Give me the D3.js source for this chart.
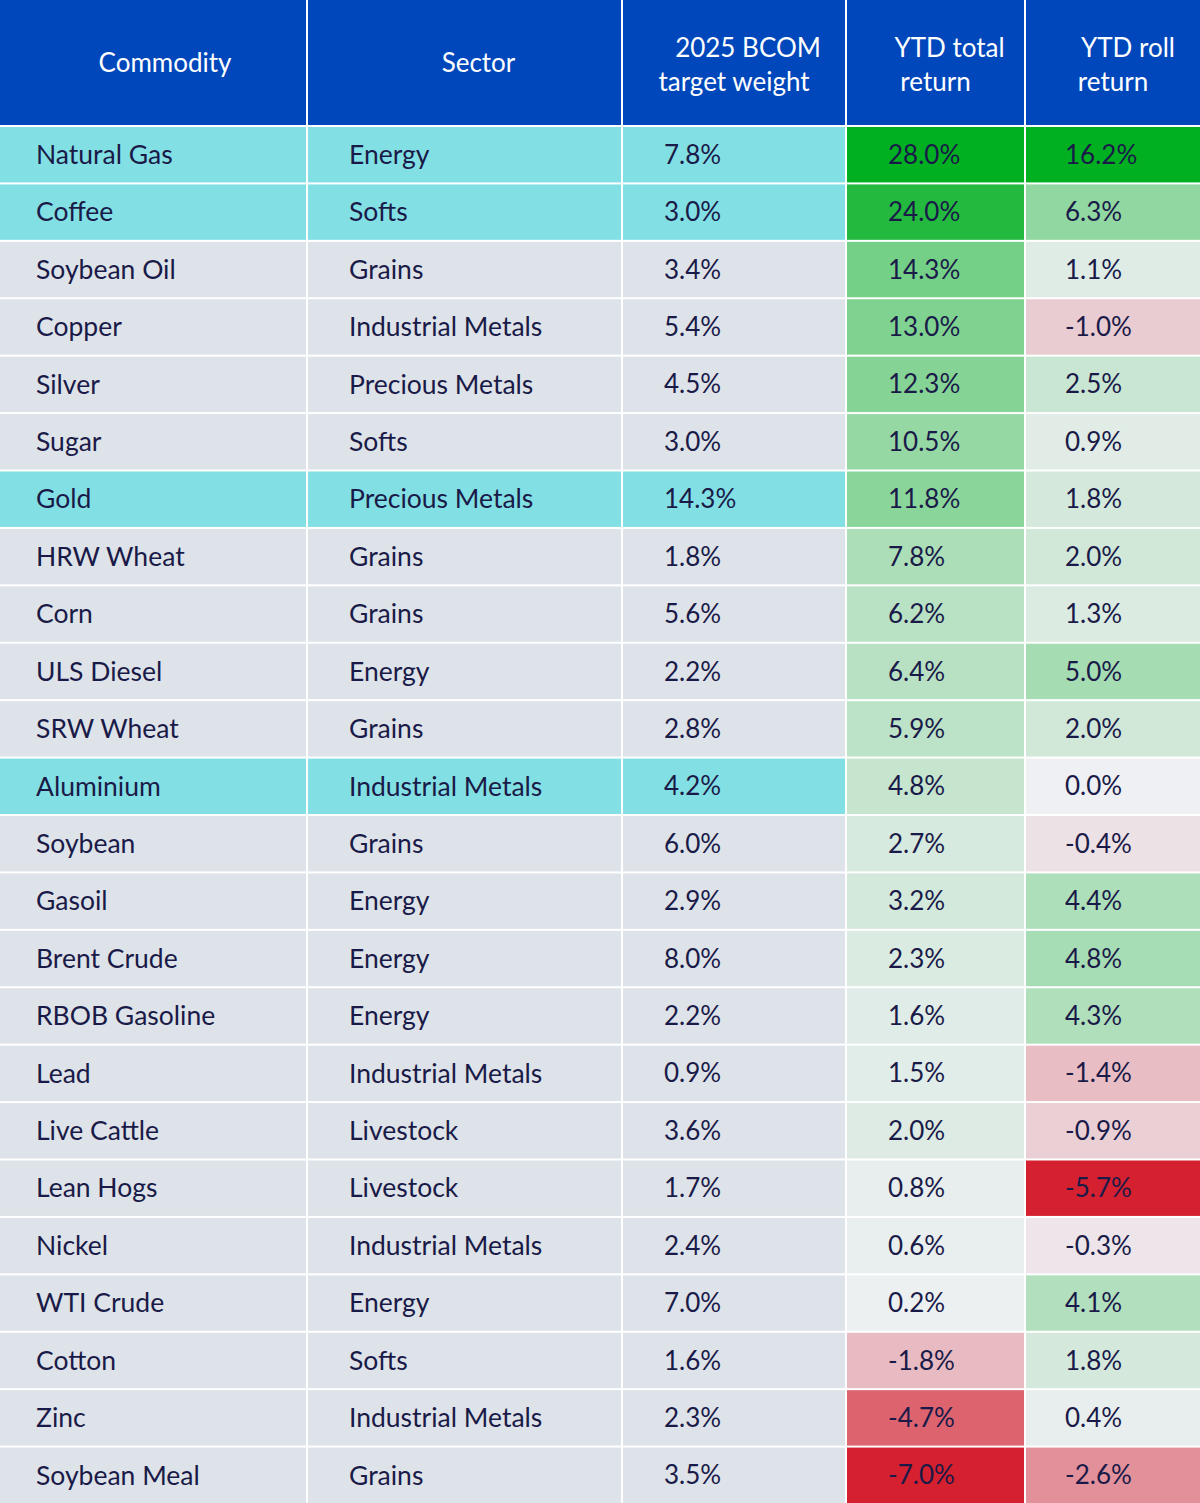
<!DOCTYPE html>
<html>
<head>
<meta charset="utf-8">
<script src="https://cdn.jsdelivr.net/npm/d3@7"></script>
<style>
  html, body { margin: 0; padding: 0; background: #ffffff; }
  svg { display: block; }
</style>
</head>
<body>
<svg id="chart" width="1200" height="1503"></svg>
<script>
// ---- data ----
const commodities = ["Natural Gas","Coffee","Soybean Oil","Copper","Silver","Sugar","Gold","HRW Wheat","Corn","ULS Diesel","SRW Wheat","Aluminium","Soybean","Gasoil","Brent Crude","RBOB Gasoline","Lead","Live Cattle","Lean Hogs","Nickel","WTI Crude","Cotton","Zinc","Soybean Meal"];
const sectors = ["Energy","Softs","Grains","Industrial Metals","Precious Metals","Softs","Precious Metals","Grains","Grains","Energy","Grains","Industrial Metals","Grains","Energy","Energy","Energy","Industrial Metals","Livestock","Livestock","Industrial Metals","Energy","Softs","Industrial Metals","Grains"];
const targetWeight = [7.8,3.0,3.4,5.4,4.5,3.0,14.3,1.8,5.6,2.2,2.8,4.2,6.0,2.9,8.0,2.2,0.9,3.6,1.7,2.4,7.0,1.6,2.3,3.5];
const ytdTotalReturn = [28.0,24.0,14.3,13.0,12.3,10.5,11.8,7.8,6.2,6.4,5.9,4.8,2.7,3.2,2.3,1.6,1.5,2.0,0.8,0.6,0.2,-1.8,-4.7,-7.0];
const ytdRollReturn = [16.2,6.3,1.1,-1.0,2.5,0.9,1.8,2.0,1.3,5.0,2.0,0.0,-0.4,4.4,4.8,4.3,-1.4,-0.9,-5.7,-0.3,4.1,1.8,0.4,-2.6];
const highlighted = ["Natural Gas","Coffee","Gold","Aluminium"];
const headers = [["Commodity"],["Sector"],["2025 BCOM","target weight"],["YTD total","return"],["YTD roll","return"]];

// ---- layout ----
const W = 1200, H = 1503, headerH = 125;
const colEdges = [0, 307, 622, 846, 1025, 1200];
const headerShift = [12, 14, 14, 14, 15];
const svg = d3.select("#chart");
const font = "'Source Sans Pro', Lato, 'Noto Sans', sans-serif";
const textColor = "#1a1a48";

const rows = commodities.map((c, i) => ({
  commodity: c, sector: sectors[i], weight: targetWeight[i],
  total: ytdTotalReturn[i], roll: ytdRollReturn[i],
  hl: highlighted.includes(c)
}));

const y = d3.scaleBand().domain(commodities).range([headerH + 2, H + 2]).paddingInner(0).paddingOuter(0);
const fmt = v => v.toFixed(1) + "%";

function divScale(vals) {
  return d3.scaleLinear()
    .domain([d3.min(vals), 0, d3.max(vals)])
    .range(["#d4202f", "#eef0f3", "#00b020"])
    .interpolate(d3.interpolateRgb)
    .clamp(true);
}
const totalColor = divScale(ytdTotalReturn);
const rollColor = divScale(ytdRollReturn);

svg.append("rect").attr("width", W).attr("height", H).attr("fill", "#ffffff");

// header cells
const hdr = svg.append("g");
headers.forEach((lines, ci) => {
  const x0 = colEdges[ci] + (ci === 0 ? 0 : 1);
  const x1 = colEdges[ci + 1] - (ci === 4 ? 0 : 1);
  hdr.append("rect").attr("x", x0).attr("y", 0).attr("width", x1 - x0).attr("height", headerH)
    .attr("fill", "#0047bb");
  const cx = (x0 + x1) / 2;
  const t = hdr.append("text").attr("fill", "#ffffff").attr("font-family", font)
    .attr("font-size", 26).attr("text-anchor", "middle");
  if (lines.length === 1) {
    t.append("tspan").attr("x", cx + headerShift[ci]).attr("y", 63).attr("dy", "0.35em").text(lines[0]);
  } else {
    t.append("tspan").attr("x", cx + headerShift[ci]).attr("y", 48).attr("dy", "0.35em").text(lines[0]);
    t.append("tspan").attr("x", cx).attr("y", 82).attr("dy", "0.35em").text(lines[1]);
  }
});

// body
const body = svg.append("g");
const rowG = body.selectAll("g.row").data(rows).join("g").attr("class", "row")
  .attr("transform", d => `translate(0,${y(d.commodity)})`);

const cellH = y.bandwidth() - 2;
const colsSpec = [
  { fill: d => d.hl ? "#82e0e4" : "#dee3e9", text: d => d.commodity, pad: 36, size: 26.5 },
  { fill: d => d.hl ? "#82e0e4" : "#dee3e9", text: d => d.sector, pad: 42, size: 26.5 },
  { fill: d => d.hl ? "#82e0e4" : "#dee3e9", text: d => fmt(d.weight), pad: 42, size: 26 },
  { fill: d => totalColor(d.total), text: d => fmt(d.total), pad: 42, size: 26 },
  { fill: d => rollColor(d.roll), text: d => fmt(d.roll), pad: 40, size: 26 }
];

colsSpec.forEach((c, ci) => {
  const x0 = colEdges[ci] + (ci === 0 ? 0 : 1);
  const x1 = colEdges[ci + 1] - (ci === 4 ? 0 : 1);
  rowG.append("rect").attr("x", x0).attr("y", 0).attr("width", x1 - x0).attr("height", cellH)
    .attr("fill", c.fill);
  rowG.append("text").attr("x", colEdges[ci] + c.pad).attr("y", cellH / 2).attr("dy", "0.35em")
    .attr("font-family", font).attr("font-size", c.size).attr("fill", textColor)
    .text(c.text);
});
</script>
</body>
</html>
